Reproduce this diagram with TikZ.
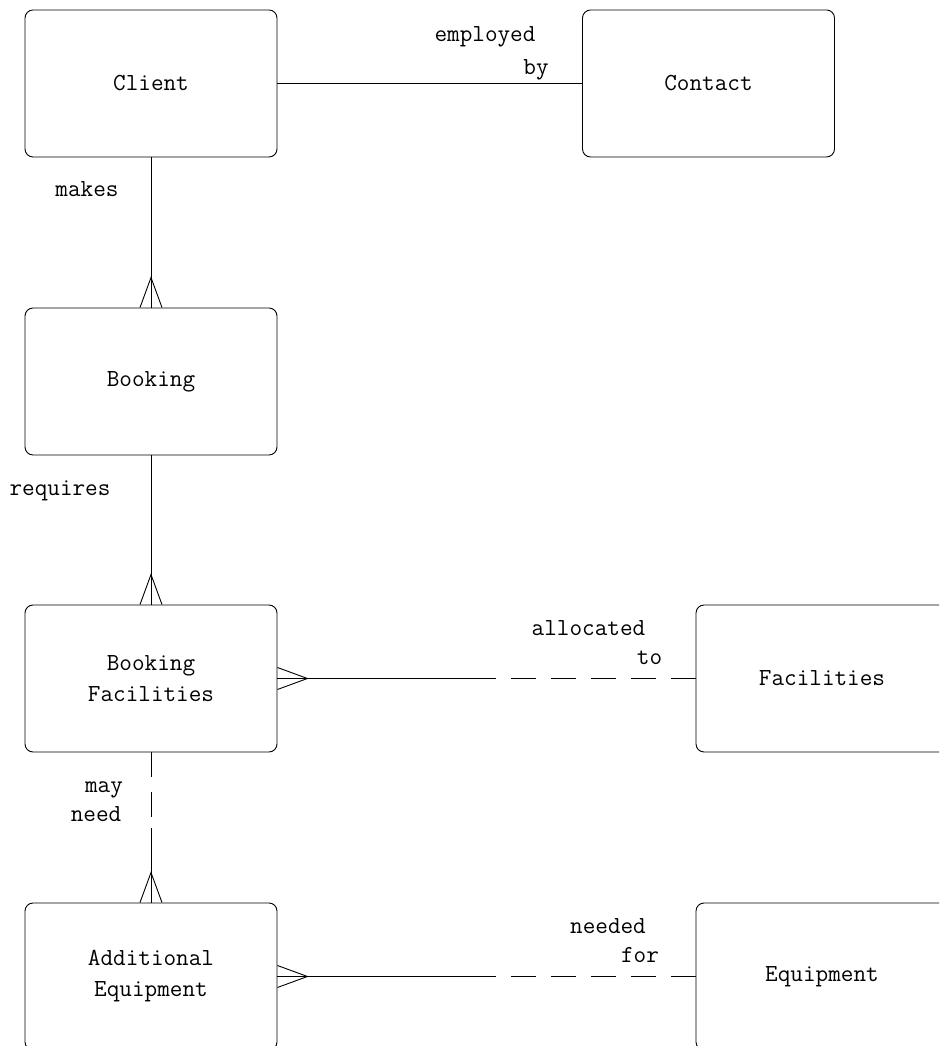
\documentclass[tikz,border=0pt]{standalone}
\begin{document}
\begin{tikzpicture}[x=1pt, y=1pt,
    entity/.style={draw, line width=0.9pt, rounded corners=8pt,
      minimum width=252pt, minimum height=147pt, align=center,
      font=\ttfamily\fontsize{24.5}{31}\selectfont},
    rel/.style={anchor=base, inner sep=0pt,
      font=\ttfamily\fontsize{24.5}{31}\selectfont},
    link/.style={line width=0.9pt},
    optional/.style={line width=0.9pt, dash pattern=on 25pt off 15pt}]
  \useasboundingbox (0, 0) rectangle (939, 1046);
  \clip (0, 0) rectangle (939, 1046);

  % entities
  \node [entity] (client) at (151, 962.5) {Client};
  \node [entity] (contact) at (708.5, 962.5) {Contact};
  \node [entity] (booking) at (151, 664.5) {Booking};
  \node [entity] (bookfac) at (151, 367.5) {Booking\\Facilities};
  \node [entity] (facilities) at (822, 367.5) {Facilities};
  \node [entity] (addequip) at (151, 69.5) {Additional\\Equipment};
  \node [entity] (equipment) at (822, 69.5) {Equipment};

  % relationships
  \draw [link] (client) -- (contact);
  \node [rel] (employed) at (485, 1004) {employed};
  \node [rel] (by) at (536, 971) {by};

  \draw [link] (client) -- (booking);
  \draw [link] ([xshift=-11pt]booking.north) -- ([yshift=30pt]booking.north) -- ([xshift=11pt]booking.north);
  \node [rel] (makes) at (87, 849) {makes};

  \draw [link] (booking) -- (bookfac);
  \draw [link] ([xshift=-11pt]bookfac.north) -- ([yshift=30pt]bookfac.north) -- ([xshift=11pt]bookfac.north);
  \node [rel] (requires) at (60, 550) {requires};

  \coordinate (alloc) at (495, 367.5);
  \draw [link] (bookfac) -- (alloc);
  \draw [optional] (facilities) -- (alloc);
  \draw [link] ([yshift=11pt]bookfac.east) -- ([xshift=30pt]bookfac.east) -- ([yshift=-11pt]bookfac.east);
  \node [rel] (allocated) at (588.5, 410) {allocated};
  \node [rel] (to) at (649.5, 381) {to};

  \coordinate (mayneed) at (151, 218);
  \draw [optional] (bookfac) -- (mayneed);
  \draw [link] (mayneed) -- (addequip);
  \draw [link] ([xshift=-11pt]addequip.north) -- ([yshift=30pt]addequip.north) -- ([xshift=11pt]addequip.north);
  \node [rel] (may) at (104, 253) {may};
  \node [rel] (need) at (96, 224) {need};

  \coordinate (neededfor) at (495, 69.5);
  \draw [link] (addequip) -- (neededfor);
  \draw [optional] (equipment) -- (neededfor);
  \draw [link] ([yshift=11pt]addequip.east) -- ([xshift=30pt]addequip.east) -- ([yshift=-11pt]addequip.east);
  \node [rel] (needed) at (608, 112) {needed};
  \node [rel] (for) at (640, 83) {for};
\end{tikzpicture}
\end{document}
